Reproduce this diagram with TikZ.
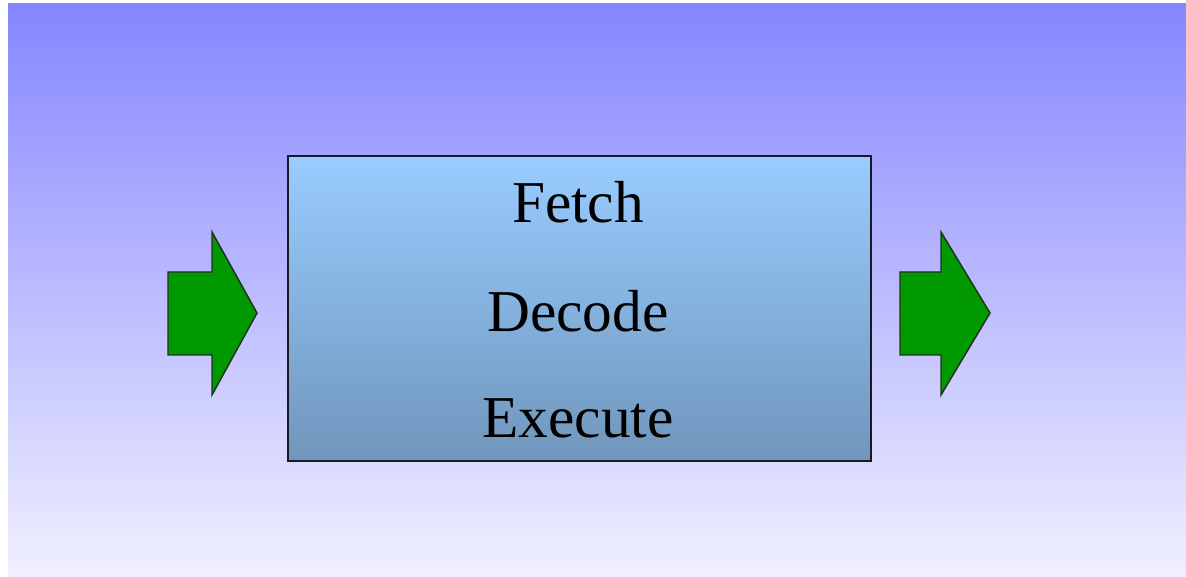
\documentclass[tikz,border=0pt]{standalone}
\usepackage{fontspec}
\setmainfont{Liberation Serif}
\begin{document}
\begin{tikzpicture}[x=0.75pt,y=-0.75pt,
  stage/.style={anchor=base, inner sep=0pt, font=\fontsize{44.5pt}{48pt}\selectfont, text=black},
  greenarrow/.style={fill={rgb,255:red,0;green,153;blue,0}, draw={rgb,255:red,30;green,50;blue,30}, line width=1.1pt, line join=miter},
  cpubox/.style={draw={rgb,255:red,25;green,25;blue,35}, line width=1.4pt, minimum width=583*0.75pt, minimum height=305*0.75pt, inner sep=0pt,
    top color={rgb,255:red,153;green,204;blue,255}, bottom color={rgb,255:red,112;green,150;blue,188}}]
\useasboundingbox (0,0) rectangle (1186,577);
\fill[white] (0,0) rectangle (1186,577);
\shade[top color={rgb,255:red,134;green,134;blue,255}, bottom color={rgb,255:red,240;green,240;blue,255}] (8,4) rectangle (1186,577);
\node[cpubox] (box) at (579.5,308.5) {};
\node[stage] (fetch) at (578,223) {Fetch};
\node[stage] (decode) at (578,332) {Decode};
\node[stage] (execute) at (578,437) {Execute};
\draw[greenarrow] (168,272) -- (212,272) -- (212,232) -- (257,313) -- (212,395) -- (212,355) -- (168,355) -- cycle;
\draw[greenarrow] (900,272) -- (941,272) -- (941,232) -- (990,313) -- (941,395) -- (941,355) -- (900,355) -- cycle;
\end{tikzpicture}
\end{document}
